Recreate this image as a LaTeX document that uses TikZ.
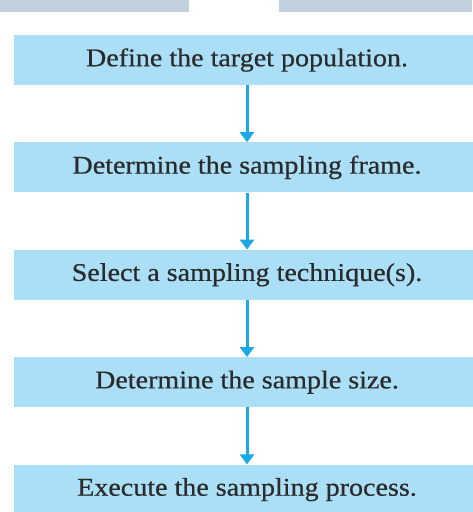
\documentclass[tikz,border=0pt]{standalone}
\usepackage{fontspec}
\setmainfont[FakeStretch=1.1,FakeBold=0.6]{Liberation Serif}
\usetikzlibrary{positioning,arrows.meta}
\definecolor{boxblue}{HTML}{AADFF7}
\definecolor{arrowblue}{HTML}{1BA9E6}
\definecolor{bargray}{HTML}{C1D1DE}
\definecolor{inkgray}{HTML}{2B2B2B}
\begin{document}
\begin{tikzpicture}[x=1pt,y=1pt,every node/.style={font=\fontsize{25.5}{30}\selectfont,text=inkgray},
 stepbox/.style={fill=boxblue,minimum width=466pt,minimum height=50pt,inner sep=0pt},
 flow/.style={arrowblue,line width=3pt,-{Triangle[width=14pt,length=10pt]}},
 node distance=57pt]
 \useasboundingbox (0,0) rectangle (472,-512);
 \fill[bargray] (0,0) rectangle (189,-12);
 \fill[bargray] (279,0) rectangle (472,-12);
 \node[stepbox] (define) at (247,-60) {Define the target population.};
 \node[stepbox,below=of define] (frame) {Determine the sampling frame.};
 \node[stepbox,below=of frame] (technique) {Select a sampling technique(s).};
 \node[stepbox,below=of technique] (size) {Determine the sample size.};
 \node[stepbox,below=of size] (execute) {Execute the sampling process.};
 \draw[flow] (define) -- (frame);
 \draw[flow] (frame) -- (technique);
 \draw[flow] (technique) -- (size);
 \draw[flow] (size) -- (execute);
\end{tikzpicture}
\end{document}
